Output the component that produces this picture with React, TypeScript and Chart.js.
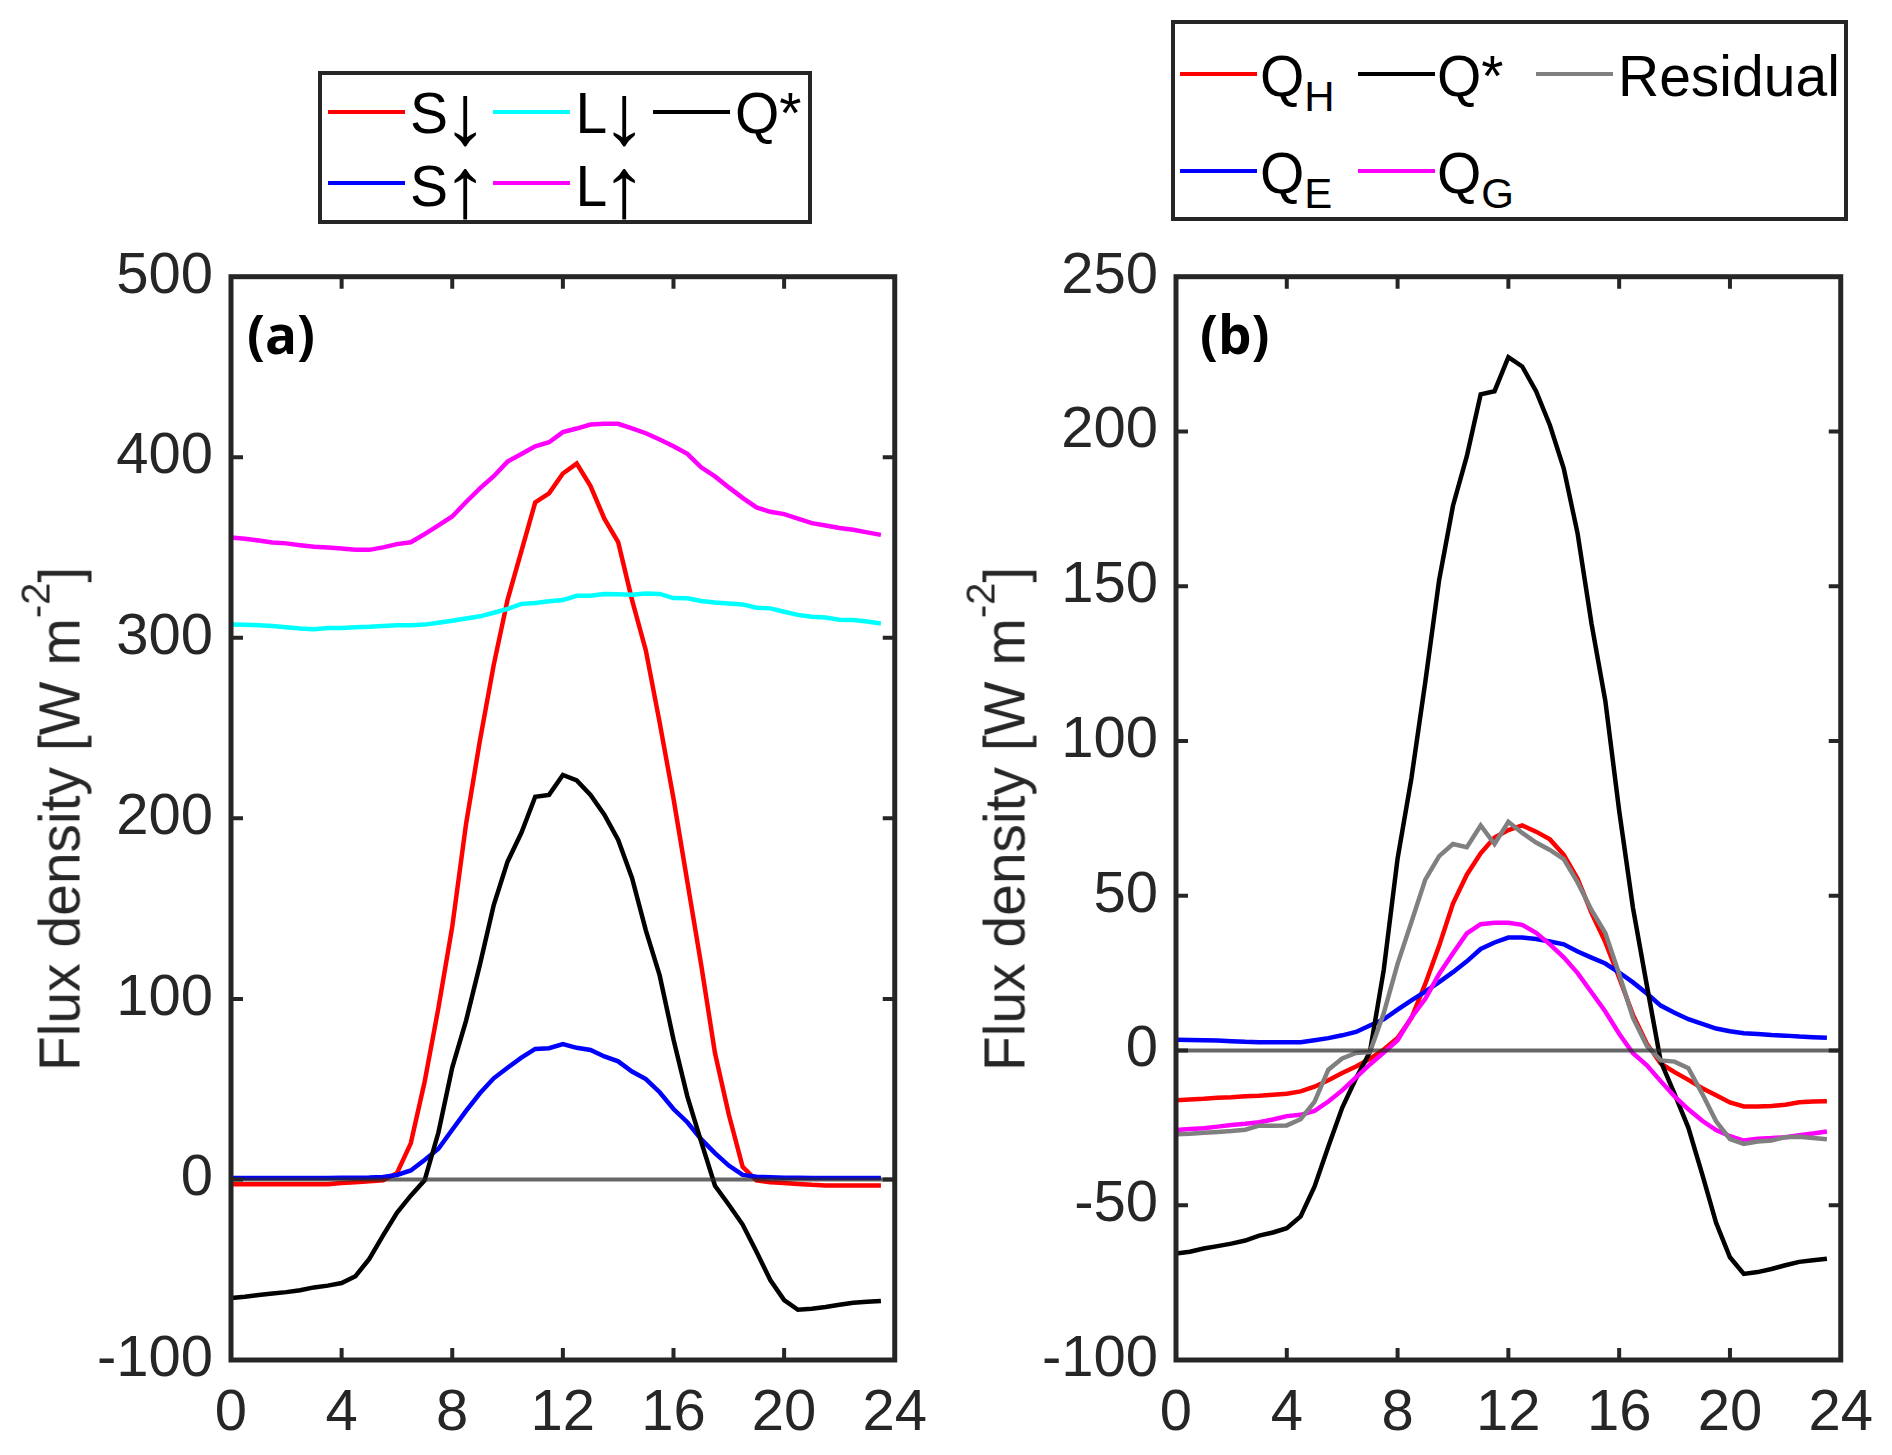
import React, { useEffect, useRef } from 'react';
import { Chart, registerables } from 'chart.js';

Chart.register(...registerables);

// ---------------- data (half-hourly local time) ----------------
const HOURS = [
  0, 0.5, 1, 1.5, 2, 2.5, 3, 3.5, 4, 4.5, 5, 5.5, 6, 6.5, 7, 7.5,
  8, 8.5, 9, 9.5, 10, 10.5, 11, 11.5, 12, 12.5, 13, 13.5, 14, 14.5, 15, 15.5,
  16, 16.5, 17, 17.5, 18, 18.5, 19, 19.5, 20, 20.5, 21, 21.5, 22, 22.5, 23, 23.5,
];

// panel (a) radiation components
const S_DOWN = [
  -2.7, -2.7, -2.7, -2.7, -2.7, -2.7, -2.7, -2.6, -2.0, -1.5, -1.0, -0.5, 3.5, 20, 54, 95,
  140, 197, 243, 285, 321, 348, 375, 380, 391, 396.5, 384, 366, 353, 321, 293, 253,
  211, 165, 119, 70, 36, 7, -0.5, -1.5, -2, -2.5, -3, -3.3, -3.3, -3.3, -3.3, -3.3,
];
const S_UP = [
  0.8, 0.8, 0.8, 0.8, 0.8, 0.8, 0.8, 0.8, 0.9, 1.0, 1.1, 1.4, 2.5, 5, 10.8, 17,
  27.5, 38, 47.7, 56, 61.9, 67.5, 72.3, 72.7, 75, 72.9, 71.7, 68.1, 65.4, 59.8, 55.6, 48.3,
  39, 31.7, 22.3, 14.6, 7.7, 2.5, 1.5, 1.2, 1.0, 0.9, 0.8, 0.8, 0.8, 0.8, 0.8, 0.8,
];
const L_DOWN = [
  307.4, 307.2, 307.0, 306.5, 305.9, 305.2, 304.7, 305.4, 305.4, 305.9, 306.1, 306.5, 306.9, 307.0, 307.3, 308.3,
  309.4, 310.7, 311.9, 313.9, 316.0, 318.8, 319.3, 320.3, 320.9, 323.3, 323.3, 324.2, 324.1, 323.9, 324.6, 324.3,
  322.0, 321.9, 320.4, 319.6, 319.0, 318.5, 316.7, 316.3, 314.4, 312.7, 311.7, 311.2, 310.0, 309.8, 309.0, 307.9,
];
const L_UP = [
  355.6, 354.8, 353.9, 352.8, 352.3, 351.3, 350.4, 350.0, 349.5, 348.8, 348.7, 350.1, 351.9, 352.9, 357.4, 362.3,
  367.2, 375.2, 382.8, 389.5, 397.6, 401.8, 406.1, 408.3, 413.9, 415.9, 418.1, 418.5, 418.5, 416.0, 413.3, 409.8,
  406.1, 401.9, 394.4, 389.4, 383.3, 377.5, 372.2, 369.8, 368.5, 366.0, 363.5, 362.2, 360.8, 359.8, 358.4, 357.0,
];
// net radiation (same in both panels)
const Q_STAR = [
  -65.6, -65.0, -64.0, -63.2, -62.4, -61.4, -59.8, -58.8, -57.4, -53.6, -44.0, -31.0, -18.5, -9.0, -0.5, 26,
  62, 88, 119, 152, 176, 192, 212, 213, 224, 221, 213, 202, 188, 167, 138, 113,
  77.5, 46, 21, -3.5, -14, -25, -40, -55.7, -66.8, -72.2, -71.6, -70.6, -69.4, -68.3, -67.8, -67.3,
];

// panel (b) energy balance components
const Q_H = [
  -16.1, -15.8, -15.6, -15.3, -15.1, -14.8, -14.6, -14.3, -14.0, -13.2, -11.7, -9.6, -7.3, -5.2, -2.7, 0.3,
  4.0, 10.5, 21.5, 33.8, 47.5, 56.8, 63.7, 68.8, 71.2, 72.7, 70.7, 68.2, 63.2, 55.5, 44.5, 35.0,
  23.5, 11.5, 2.2, -4.2, -7.0, -9.5, -12.2, -14.5, -16.8, -18.1, -18.1, -17.9, -17.5, -16.7, -16.5, -16.4,
];
const Q_E = [
  3.5, 3.4, 3.3, 3.2, 3.0, 2.8, 2.7, 2.7, 2.7, 2.7, 3.3, 4.0, 4.9, 6.0, 8.1, 10.1,
  13.2, 16.2, 19.0, 22.1, 25.3, 28.8, 32.8, 34.9, 36.5, 36.5, 36.0, 35.2, 34.3, 32.0, 30.0, 28.1,
  25.2, 22.0, 18.4, 14.5, 12.2, 10.1, 8.6, 7.1, 6.2, 5.6, 5.3, 5.0, 4.8, 4.5, 4.3, 4.1,
];
const Q_G = [
  -25.7, -25.4, -25.1, -24.6, -24.1, -23.7, -23.2, -22.3, -21.2, -20.8, -19.5, -16.5, -12.9, -8.7, -4.5, -0.7,
  3.3, 10.7, 16.7, 24.7, 31.4, 37.8, 40.8, 41.3, 41.3, 40.6, 38.0, 34.3, 30.1, 25.0, 18.8, 12.6,
  5.4, -0.9, -4.8, -9.9, -14.8, -19.0, -22.7, -25.7, -27.7, -29.1, -28.5, -28.3, -28.0, -27.4, -26.8, -26.2,
];
const RESIDUAL = [
  -27.1, -26.9, -26.6, -26.3, -26.0, -25.6, -24.3, -24.3, -24.2, -22.2, -16.6, -6.2, -2.6, -0.8, -0.5, 12.0,
  28.0, 41.5, 55.2, 62.8, 66.7, 65.7, 72.7, 66.7, 73.9, 70.3, 67.2, 64.8, 61.8, 54.3, 45.4, 38.0,
  24.7, 10.5, 1.5, -3.2, -3.6, -5.7, -14.0, -22.9, -28.6, -30.2, -29.4, -29.1, -28.0, -27.9, -28.3, -28.7,
];

// zero reference line
const ZERO_X = [0, 24];
const ZERO_Y = [0, 0];

// axes
const X_RANGE = [0, 24];
const X_STEP = 4;
const Y_RANGE_A = [-100, 500];
const Y_STEP_A = 100;
const Y_RANGE_B = [-100, 250];
const Y_STEP_B = 50;

// labels
const Y_TITLE = 'Flux density [W m';
const Y_TITLE_SUP = '-2';
const PANEL_A = '(a)';
const PANEL_B = '(b)';

// ---------------- styling ----------------
const FONT = "'Liberation Sans', Arial, Helvetica, sans-serif";
const AXIS_COLOR = '#262626';
const CANVAS_W = 946;
const CANVAS_H = 1455;
const PLOT_TOP = 276.7;
const PLOT_BOTTOM = 1360;
const LINE_W = 4.5;

const RED = '#ff0000';
const CYAN = '#00ffff';
const BLACK = '#000000';
const BLUE = '#0000ff';
const MAGENTA = '#ff00ff';
const GREY = '#808080';
const ZERO_COLOR = 'rgba(38,38,38,0.7)';

function pts(xs: number[], ys: number[]) {
  return xs.map((x, i) => ({ x, y: ys[i] }));
}

function lineDs(values: number[], color: string, order: number) {
  return {
    data: pts(HOURS, values),
    borderColor: color,
    backgroundColor: color,
    borderWidth: LINE_W,
    pointRadius: 0,
    tension: 0,
    fill: false,
    order,
  };
}

function zeroDs() {
  return {
    data: pts(ZERO_X, ZERO_Y),
    borderColor: ZERO_COLOR,
    backgroundColor: ZERO_COLOR,
    borderWidth: 4,
    pointRadius: 0,
    tension: 0,
    fill: false,
    order: 0,
  };
}

const boxPlugin = {
  id: 'matlabBox',
  afterDraw(chart: any) {
    const { ctx, chartArea } = chart;
    const { left, right, top, bottom } = chartArea;
    const xs = chart.scales.x;
    const ys = chart.scales.y;
    const TL = 12;
    ctx.save();
    ctx.strokeStyle = AXIS_COLOR;
    ctx.lineWidth = 4;
    ctx.beginPath();
    xs.ticks.forEach((t: any) => {
      const p = xs.getPixelForValue(t.value);
      if (p <= left + 2 || p >= right - 2) return;
      ctx.moveTo(p, bottom);
      ctx.lineTo(p, bottom - TL);
      ctx.moveTo(p, top);
      ctx.lineTo(p, top + TL);
    });
    ys.ticks.forEach((t: any) => {
      const p = ys.getPixelForValue(t.value);
      if (p <= top + 2 || p >= bottom - 2) return;
      ctx.moveTo(left, p);
      ctx.lineTo(left + TL, p);
      ctx.moveTo(right, p);
      ctx.lineTo(right - TL, p);
    });
    ctx.stroke();
    ctx.lineWidth = 5;
    ctx.strokeRect(left, top, right - left, bottom - top);
    ctx.restore();
  },
};

function makeOptions(yRange: number[], yStep: number, yWidth: number, rightPad: number) {
  const tickFont = { family: FONT, size: 58 };
  return {
    responsive: false,
    animation: false,
    devicePixelRatio: 1,
    events: [],
    layout: { padding: { left: 0, right: rightPad, top: PLOT_TOP, bottom: 0 } },
    plugins: {
      legend: { display: false },
      tooltip: { enabled: false },
      title: { display: false },
    },
    scales: {
      x: {
        type: 'linear',
        min: X_RANGE[0],
        max: X_RANGE[1],
        afterFit: (s: any) => {
          s.height = CANVAS_H - PLOT_BOTTOM;
        },
        ticks: {
          stepSize: X_STEP,
          font: tickFont,
          color: AXIS_COLOR,
          padding: 19,
          maxRotation: 0,
          autoSkip: false,
        },
        grid: { display: false, drawTicks: false },
        border: { display: false },
      },
      y: {
        type: 'linear',
        min: yRange[0],
        max: yRange[1],
        afterFit: (s: any) => {
          s.width = yWidth;
        },
        ticks: {
          stepSize: yStep,
          font: tickFont,
          color: AXIS_COLOR,
          padding: 18,
          autoSkip: false,
        },
        grid: { display: false, drawTicks: false },
        border: { display: false },
      },
    },
  };
}

// ---------------- HTML pieces ----------------
const LEG_F = 57;
const SUB_F = 42;

function LegLine({ x, y, color }: { x: number; y: number; color: string }) {
  return (
    <div
      style={{
        position: 'absolute',
        left: x,
        top: y - 2,
        width: 77,
        height: 4,
        background: color,
      }}
    />
  );
}

function LegText({ x, baseline, children }: { x: number; baseline: number; children: any }) {
  return (
    <div
      style={{
        position: 'absolute',
        left: x,
        top: baseline - 0.8465 * LEG_F,
        fontFamily: FONT,
        fontSize: LEG_F,
        lineHeight: `${LEG_F}px`,
        color: '#000',
        whiteSpace: 'nowrap',
      }}
    >
      {children}
    </div>
  );
}

function Sub({ children }: { children: any }) {
  return (
    <span style={{ fontSize: SUB_F, lineHeight: 1, position: 'relative', top: 15 }}>{children}</span>
  );
}

function Arrow({ children }: { children: any }) {
  return (
    <span
      style={{
        display: 'inline-block',
        transform: 'translate(3px, 1px) scale(1.6, 1.5)',
        transformOrigin: '50% 50%',
      }}
    >
      {children}
    </span>
  );
}

function YTitle({ cx, cy }: { cx: number; cy: number }) {
  return (
    <div
      style={{
        position: 'absolute',
        left: cx,
        top: cy,
        transform: 'translate(-50%, -50%) rotate(-90deg)',
        fontFamily: FONT,
        fontSize: 57,
        lineHeight: '57px',
        color: AXIS_COLOR,
        whiteSpace: 'nowrap',
      }}
    >
      {Y_TITLE}
      <span style={{ fontSize: '0.7em', lineHeight: 1, position: 'relative', top: -30 }}>{Y_TITLE_SUP}</span>
      {']'}
    </div>
  );
}

function PanelLabel({ x, y, text }: { x: number; y: number; text: string }) {
  return (
    <div
      style={{
        position: 'absolute',
        left: x,
        top: y,
        fontFamily: "'Open Sans', 'Noto Sans', sans-serif",
        fontWeight: 700,
        fontSize: 53,
        lineHeight: '53px',
        color: '#000',
        whiteSpace: 'nowrap',
      }}
    >
      {text}
    </div>
  );
}

function LegendBox({ x, y, w, h }: { x: number; y: number; w: number; h: number }) {
  return (
    <div
      style={{
        position: 'absolute',
        left: x,
        top: y,
        width: w,
        height: h,
        boxSizing: 'border-box',
        border: `4px solid ${AXIS_COLOR}`,
        background: '#fff',
      }}
    />
  );
}

export default function App() {
  const refA = useRef<HTMLCanvasElement | null>(null);
  const refB = useRef<HTMLCanvasElement | null>(null);

  useEffect(() => {
    const chartA = new Chart(refA.current as HTMLCanvasElement, {
      type: 'line',
      data: {
        datasets: [
          zeroDs(),
          lineDs(Q_STAR, BLACK, 1),
          lineDs(L_UP, MAGENTA, 2),
          lineDs(L_DOWN, CYAN, 3),
          lineDs(S_UP, BLUE, 4),
          lineDs(S_DOWN, RED, 5),
        ],
      } as any,
      options: makeOptions(Y_RANGE_A, Y_STEP_A, 231, CANVAS_W - 898.5) as any,
      plugins: [boxPlugin],
    });
    const chartB = new Chart(refB.current as HTMLCanvasElement, {
      type: 'line',
      data: {
        datasets: [
          zeroDs(),
          lineDs(RESIDUAL, GREY, 1),
          lineDs(Q_G, MAGENTA, 2),
          lineDs(Q_STAR, BLACK, 3),
          lineDs(Q_E, BLUE, 4),
          lineDs(Q_H, RED, 5),
        ],
      } as any,
      options: makeOptions(Y_RANGE_B, Y_STEP_B, 230, CANVAS_W - 898) as any,
      plugins: [boxPlugin],
    });
    return () => {
      chartA.destroy();
      chartB.destroy();
    };
  }, []);

  return (
    <div
      style={{
        position: 'absolute',
        left: 0,
        top: 0,
        width: 1892,
        height: 1455,
        background: '#fff',
        overflow: 'hidden',
      }}
    >
      <canvas
        ref={refA}
        width={CANVAS_W}
        height={CANVAS_H}
        style={{ position: 'absolute', left: 0, top: 0, width: CANVAS_W, height: CANVAS_H }}
      />
      <canvas
        ref={refB}
        width={CANVAS_W}
        height={CANVAS_H}
        style={{ position: 'absolute', left: 946, top: 0, width: CANVAS_W, height: CANVAS_H }}
      />

      <YTitle cx={60} cy={819} />
      <YTitle cx={1005} cy={819} />
      <PanelLabel x={247} y={307} text={PANEL_A} />
      <PanelLabel x={1200} y={307} text={PANEL_B} />

      {/* legend (a) */}
      <LegendBox x={318} y={71} w={494} h={153} />
      <LegLine x={328} y={111.7} color={RED} />
      <LegText x={410} baseline={133.3}>
        S<Arrow>↓</Arrow>
      </LegText>
      <LegLine x={493} y={111.7} color={CYAN} />
      <LegText x={575.5} baseline={133.3}>
        L<Arrow>↓</Arrow>
      </LegText>
      <LegLine x={653} y={111.7} color={BLACK} />
      <LegText x={735} baseline={133.3}>Q*</LegText>
      <LegLine x={328} y={182.7} color={BLUE} />
      <LegText x={410} baseline={206.7}>
        S<Arrow>↑</Arrow>
      </LegText>
      <LegLine x={493} y={182.7} color={MAGENTA} />
      <LegText x={575.5} baseline={206.7}>
        L<Arrow>↑</Arrow>
      </LegText>

      {/* legend (b) */}
      <LegendBox x={1171} y={20} w={677} h={201} />
      <LegLine x={1180} y={73.5} color={RED} />
      <LegText x={1260} baseline={96}>
        Q<Sub>H</Sub>
      </LegText>
      <LegLine x={1358} y={73.5} color={BLACK} />
      <LegText x={1437} baseline={96}>Q*</LegText>
      <LegLine x={1536} y={73.5} color={GREY} />
      <LegText x={1618} baseline={96}>Residual</LegText>
      <LegLine x={1180} y={171} color={BLUE} />
      <LegText x={1260} baseline={193}>
        Q<Sub>E</Sub>
      </LegText>
      <LegLine x={1358} y={171} color={MAGENTA} />
      <LegText x={1437} baseline={193}>
        Q<Sub>G</Sub>
      </LegText>
    </div>
  );
}
